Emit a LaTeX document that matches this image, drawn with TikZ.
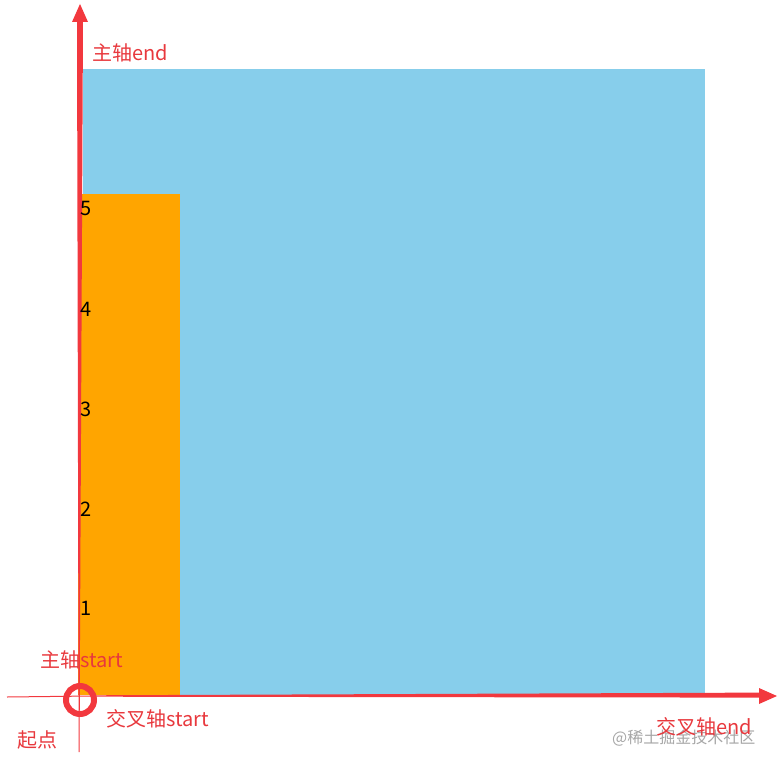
\documentclass[tikz,border=0pt]{standalone}
\usepackage{fontspec}
\usepackage{xcolor}
\usepackage{tikz}
\usetikzlibrary{positioning}
\newfontfamily\cjk{Noto Sans CJK SC}
\definecolor{axisred}{HTML}{F2383E}
\definecolor{labelred}{HTML}{E8383D}
\definecolor{boxblue}{HTML}{87CEEB}
\definecolor{boxorange}{HTML}{FFA500}
\tikzset{
x=1pt, y=-1pt, % one unit is one pixel of the screenshot, y runs down
axislabel/.style={text=labelred, font=\cjk\fontsize{20}{20}\selectfont, anchor=west, inner sep=0pt}, % red axis names
ticklabel/.style={text=black, font=\cjk\fontsize{20}{20}\selectfont, anchor=west, inner sep=0pt}, % numbers 1..5
watermark/.style={text=black!35, font=\cjk\fontsize{16}{16}\selectfont, anchor=west, inner sep=0pt}, % watermark
}

\begin{document}
\begin{tikzpicture}
        \useasboundingbox (0,0) rectangle (778,767);

        % the two boxes
        \fill[boxblue] (83,69) rectangle (705,695);
        \fill[boxorange] (78,194) rectangle (180,695);

        % main axis, thick at the top and thin at the start
        \fill[axisred] (77,21) -- (83,21) -- (80,640) -- (79.6,752) -- (78.6,752) -- (78.4,640) -- cycle;
        \fill[axisred] (80,4) -- (72,22) -- (88,22) -- cycle;

        % cross axis
        \draw[axisred, line width=1pt] (7,697) -- (92,696);
        \fill[axisred] (92,695.3) -- (760,692.6) -- (760,697.6) -- (92,696.7) -- cycle;
        \fill[axisred] (777,696) -- (759,688) -- (759,704) -- cycle;

        % start point
        \coordinate (origin) at (80,700);
        \draw[axisred, line width=6pt] (origin) circle[radius=14];

        \node[ticklabel] (n5) at (80,209) {5};
        \node[ticklabel] (n4) at (80,309) {4};
        \node[ticklabel] (n3) at (80,409) {3};
        \node[ticklabel] (n2) at (80,509) {2};
        \node[ticklabel] (n1) at (80,608) {1};

        \node[watermark] (wm) at (612,738) {@稀土掘金技术社区};

        \node[axislabel] (mainEnd) at (92,53) {主轴end};
        \node[axislabel] (mainStart) at (40,660) {主轴start};
        \node[axislabel] (crossStart) at (106,719) {交叉轴start};
        \node[axislabel] (crossEnd) at (656,727) {交叉轴end};
        \node[axislabel] (start) at (17,740) {起点};
\end{tikzpicture}
\end{document}
